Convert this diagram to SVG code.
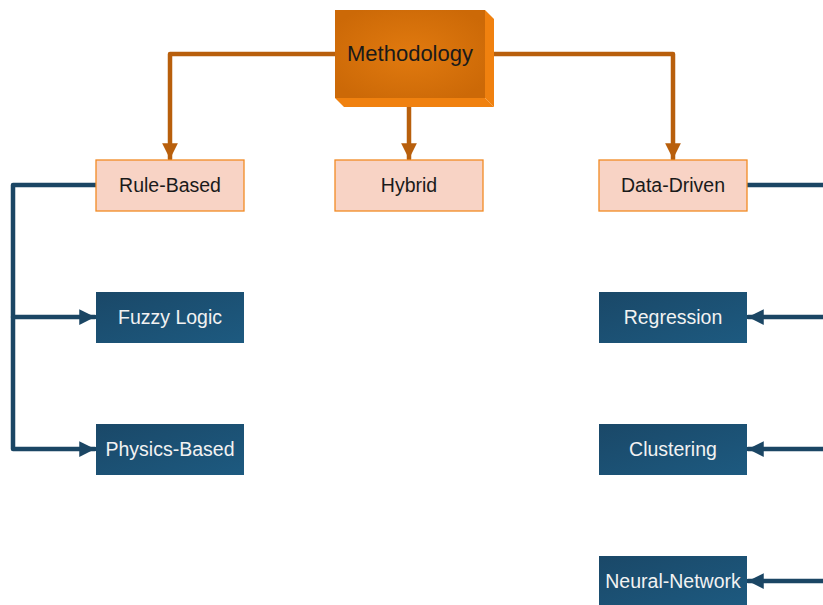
<svg xmlns="http://www.w3.org/2000/svg" width="823" height="605" viewBox="0 0 823 605">
  <style>
    .lbl { font-family: "Liberation Sans", Arial, sans-serif; font-size: 19.5px; text-anchor: middle; dominant-baseline: central; }
    .light rect { fill: #F8D3C5; stroke: #F18A24; stroke-width: 1.3; }
    .light text { fill: #1A1A1A; }
    .dark rect { fill: url(#gDark); }
    .dark text { fill: #F2F2F2; }
    .orange { fill: none; stroke: #B85F0C; stroke-width: 4.5; stroke-linejoin: round; stroke-linecap: round; }
    .blue { fill: none; stroke: #1B4664; stroke-width: 4.5; stroke-linejoin: round; stroke-linecap: round; }
  </style>
  <defs>
    <linearGradient id="gDark" x1="0" y1="0" x2="1" y2="1">
      <stop offset="0" stop-color="#1A4868"/>
      <stop offset="1" stop-color="#1D5A80"/>
    </linearGradient>
    <radialGradient id="gFront" cx="0.5" cy="0.5" r="0.6">
      <stop offset="0" stop-color="#E17A0F"/>
      <stop offset="1" stop-color="#CC6907"/>
    </radialGradient>
    <marker id="arrOrange" viewBox="0 0 10 10" refX="10" refY="5" markerWidth="3.5" markerHeight="3.5" orient="auto" markerUnits="strokeWidth">
      <path d="M0,0 L10,5 L0,10 z" fill="#B85F0C"/>
    </marker>
    <marker id="arrBlue" viewBox="0 0 10 10" refX="10" refY="5" markerWidth="3.5" markerHeight="3.5" orient="auto" markerUnits="strokeWidth">
      <path d="M0,0 L10,5 L0,10 z" fill="#1B4664"/>
    </marker>
  </defs>

  <g id="connectors">
    <path class="orange" d="M335,54 H170 V159" marker-end="url(#arrOrange)"/>
    <path class="orange" d="M409,98 V159" marker-end="url(#arrOrange)"/>
    <path class="orange" d="M485,54 H673 V159" marker-end="url(#arrOrange)"/>
    <path class="blue" d="M96,185 H13 V449 H95" marker-end="url(#arrBlue)"/>
    <path class="blue" d="M13,317 H95" marker-end="url(#arrBlue)"/>
    <path class="blue" d="M747,185 H830"/>
    <path class="blue" d="M830,317 H748" marker-end="url(#arrBlue)"/>
    <path class="blue" d="M830,449 H748" marker-end="url(#arrBlue)"/>
    <path class="blue" d="M830,581 H748" marker-end="url(#arrBlue)"/>
  </g>

  <g id="methodology">
    <polygon points="485,10 494,19 494,107 485,98" fill="#F0810F"/>
    <polygon points="335,98 485,98 494,107 344,107" fill="#F0810F"/>
    <rect x="335" y="10" width="150" height="88" fill="url(#gFront)"/>
    <text class="lbl" x="410" y="53.5" style="font-size:22px" fill="#1A1A1A">Methodology</text>
  </g>

  <g id="rule-based" class="light">
    <rect x="96" y="160" width="148" height="51"/>
    <text class="lbl" x="170" y="185">Rule-Based</text>
  </g>
  <g id="hybrid" class="light">
    <rect x="335" y="160" width="148" height="51"/>
    <text class="lbl" x="409" y="185">Hybrid</text>
  </g>
  <g id="data-driven" class="light">
    <rect x="599" y="160" width="148" height="51"/>
    <text class="lbl" x="673" y="185">Data-Driven</text>
  </g>

  <g id="fuzzy-logic" class="dark">
    <rect x="96" y="292" width="148" height="51"/>
    <text class="lbl" x="170" y="317">Fuzzy Logic</text>
  </g>
  <g id="physics-based" class="dark">
    <rect x="96" y="424" width="148" height="51"/>
    <text class="lbl" x="170" y="449">Physics-Based</text>
  </g>
  <g id="regression" class="dark">
    <rect x="599" y="292" width="148" height="51"/>
    <text class="lbl" x="673" y="317">Regression</text>
  </g>
  <g id="clustering" class="dark">
    <rect x="599" y="424" width="148" height="51"/>
    <text class="lbl" x="673" y="449">Clustering</text>
  </g>
  <g id="neural-network" class="dark">
    <rect x="599" y="556" width="148" height="51"/>
    <text class="lbl" x="673" y="581">Neural-Network</text>
  </g>
</svg>
